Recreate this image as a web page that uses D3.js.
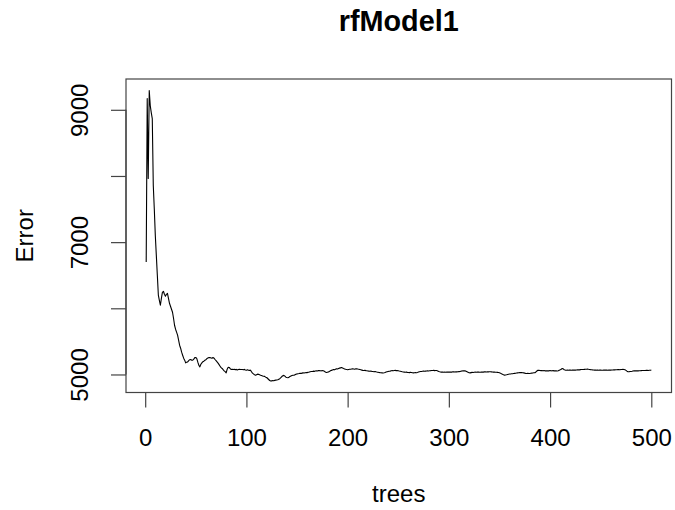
<!DOCTYPE html>
<html>
<head>
<meta charset="utf-8">
<script src="https://cdn.jsdelivr.net/npm/d3@7"></script>
<style>
  html, body { margin: 0; padding: 0; background: #ffffff; }
  svg { display: block; }
  text { font-family: "Liberation Sans", Arial, Helvetica, sans-serif; fill: #000; }
</style>
</head>
<body>
<svg id="chart" width="675" height="510"></svg>
<script>
// ---- data ----
const chartTitle = "rfModel1";
const xLabel = "trees";
const yLabel = "Error";
const xTicks = [0, 100, 200, 300, 400, 500];
const yTicks = [5000, 6000, 7000, 8000, 9000];
const yTickLabels = ["5000", "", "7000", "", "9000"];

// OOB error for trees 1..500
const errors = [
  6699, 9169, 7962, 9290, 9064, 8958, 8868, 7857, 7500, 7100,
  6800, 6500, 6200, 6121, 6046, 6151, 6242, 6257, 6212, 6182,
  6212, 6227, 6151, 6076, 6031, 5985, 5940, 5850, 5744, 5684,
  5639, 5594, 5518, 5442, 5397, 5337, 5291, 5246, 5216, 5175,
  5186, 5190, 5208, 5223, 5226, 5216, 5216, 5231, 5254, 5257,
  5241, 5186, 5140, 5115, 5155, 5175, 5193, 5201, 5216, 5223,
  5241, 5250, 5257, 5255, 5250, 5245, 5257, 5246, 5226, 5208,
  5190, 5171, 5148, 5125, 5103, 5091, 5072, 5054, 5042, 5024,
  5080, 5110, 5106, 5088, 5075, 5080, 5075, 5080, 5072, 5077,
  5068, 5075, 5080, 5074, 5075, 5075, 5072, 5077, 5068, 5065,
  5071, 5065, 5062, 5065, 5042, 5020, 5008, 4997, 4989, 4997,
  5005, 5002, 4996, 4989, 4985, 4977, 4974, 4971, 4959, 4954,
  4939, 4924, 4909, 4903, 4903, 4909, 4906, 4911, 4914, 4917,
  4921, 4929, 4936, 4951, 4969, 4981, 4986, 4974, 4959, 4954,
  4951, 4959, 4969, 4977, 4985, 4989, 4989, 4997, 5005, 5008,
  5012, 5014, 5018, 5016, 5020, 5024, 5022, 5027, 5030, 5028,
  5033, 5036, 5040, 5044, 5046, 5050, 5047, 5052, 5056, 5053,
  5058, 5060, 5057, 5055, 5058, 5056, 5048, 5038, 5030, 5034,
  5039, 5046, 5055, 5062, 5068, 5074, 5070, 5078, 5085, 5082,
  5090, 5096, 5100, 5104, 5098, 5090, 5084, 5078, 5075, 5072,
  5076, 5080, 5078, 5082, 5086, 5083, 5080, 5085, 5087, 5082,
  5078, 5074, 5070, 5066, 5062, 5060, 5063, 5058, 5055, 5052,
  5050, 5048, 5051, 5046, 5044, 5042, 5045, 5040, 5036, 5034,
  5031, 5028, 5026, 5024, 5022, 5025, 5030, 5036, 5040, 5044,
  5048, 5051, 5055, 5058, 5056, 5060, 5062, 5058, 5060, 5057,
  5052, 5048, 5044, 5040, 5038, 5036, 5034, 5035, 5032, 5030,
  5028, 5032, 5030, 5026, 5024, 5027, 5030, 5027, 5031, 5036,
  5040, 5044, 5046, 5049, 5052, 5048, 5050, 5052, 5055, 5053,
  5056, 5058, 5061, 5060, 5062, 5058, 5061, 5060, 5054, 5046,
  5040, 5036, 5035, 5037, 5033, 5036, 5034, 5038, 5035, 5036,
  5035, 5038, 5036, 5040, 5039, 5037, 5041, 5039, 5040, 5043,
  5046, 5050, 5052, 5054, 5055, 5054, 5050, 5042, 5032, 5026,
  5024, 5028, 5032, 5030, 5034, 5036, 5033, 5035, 5037, 5035,
  5034, 5036, 5038, 5036, 5039, 5041, 5038, 5040, 5039, 5041,
  5040, 5039, 5038, 5036, 5035, 5033, 5034, 5032, 5030, 5026,
  5020, 5010, 5002, 4995, 4990, 4993, 4996, 5000, 5004, 5006,
  5008, 5010, 5012, 5014, 5016, 5018, 5022, 5024, 5026, 5028,
  5030, 5028, 5026, 5024, 5020, 5017, 5015, 5016, 5014, 5015,
  5018, 5020, 5022, 5025, 5026, 5038, 5052, 5064, 5062, 5060,
  5058, 5060, 5057, 5058, 5055, 5056, 5054, 5057, 5055, 5058,
  5056, 5055, 5058, 5054, 5056, 5055, 5053, 5056, 5062, 5070,
  5080, 5090, 5085, 5072, 5066, 5064, 5066, 5063, 5065, 5066,
  5064, 5066, 5065, 5067, 5066, 5068, 5070, 5072, 5070, 5073,
  5075, 5076, 5074, 5077, 5078, 5080, 5081, 5078, 5076, 5073,
  5071, 5069, 5068, 5066, 5068, 5065, 5066, 5064, 5066, 5065,
  5063, 5064, 5066, 5065, 5067, 5066, 5064, 5066, 5065, 5066,
  5068, 5067, 5070, 5069, 5071, 5072, 5073, 5074, 5072, 5075,
  5076, 5077, 5075, 5071, 5062, 5050, 5042, 5040, 5044, 5046,
  5048, 5052, 5055, 5054, 5056, 5054, 5055, 5057, 5056, 5058,
  5060, 5059, 5061, 5060, 5062, 5063, 5061, 5064, 5063, 5065
];
const trees = d3.range(1, errors.length + 1);

// ---- layout ----
const W = 675, H = 510;
const box = { left: 126, right: 671.5, top: 79, bottom: 392.5 };
const axisFont = 24, titleFont = 28.8;
const tickLen = 15;

// R-style 4% axis extension
function extend(ext) {
  const pad = (ext[1] - ext[0]) * 0.04;
  return [ext[0] - pad, ext[1] + pad];
}

const x = d3.scaleLinear().domain(extend(d3.extent(trees))).range([box.left, box.right]);
const y = d3.scaleLinear().domain(extend(d3.extent(errors))).range([box.bottom, box.top]);

const svg = d3.select("#chart");
svg.append("rect").attr("width", W).attr("height", H).attr("fill", "#fff");

// data line
const line = d3.line().x((d, i) => x(trees[i])).y(d => y(d));
svg.append("path")
  .datum(errors)
  .attr("d", line)
  .attr("fill", "none")
  .attr("stroke", "#000")
  .attr("stroke-width", 1.1)
  .attr("stroke-linejoin", "round");

// plot box
svg.append("rect")
  .attr("x", box.left).attr("y", box.top)
  .attr("width", box.right - box.left).attr("height", box.bottom - box.top)
  .attr("fill", "none").attr("stroke", "#444").attr("stroke-width", 1.2);

// x axis
const xAxis = d3.axisBottom(x).tickValues(xTicks).tickSize(tickLen).tickPadding(22).tickSizeOuter(0);
const gx = svg.append("g").attr("transform", `translate(0,${box.bottom})`).call(xAxis);
gx.select(".domain").attr("d", `M${x(xTicks[0])},0H${x(xTicks[xTicks.length - 1])}`).attr("stroke", "#444").attr("stroke-width", 1.2);
gx.selectAll(".tick line").attr("stroke", "#444").attr("stroke-width", 1.2);
gx.selectAll(".tick text")
  .attr("font-size", axisFont)
  .attr("font-family", "Liberation Sans, Arial, sans-serif")
  .attr("fill", "#111")
  .attr("dy", null)
  .attr("y", 53.5 - 0)
  .attr("dominant-baseline", "auto");

// y axis
const yAxis = d3.axisLeft(y).tickValues(yTicks).tickSize(tickLen).tickFormat((d, i) => yTickLabels[i]).tickSizeOuter(0);
const gy = svg.append("g").attr("transform", `translate(${box.left},0)`).call(yAxis);
gy.select(".domain").attr("d", `M0,${y(yTicks[0])}V${y(yTicks[yTicks.length - 1])}`).attr("stroke", "#444").attr("stroke-width", 1.2);
gy.selectAll(".tick line").attr("stroke", "#444").attr("stroke-width", 1.2);
gy.selectAll(".tick text")
  .attr("font-size", axisFont)
  .attr("font-family", "Liberation Sans, Arial, sans-serif")
  .attr("fill", "#111")
  .attr("x", null).attr("dy", null)
  .attr("text-anchor", "middle")
  .attr("transform", "translate(-38,0) rotate(-90)");

// title & axis titles
svg.append("text")
  .attr("x", (box.left + box.right) / 2).attr("y", 31)
  .attr("text-anchor", "middle")
  .attr("font-size", titleFont).attr("font-weight", "bold")
  .text(chartTitle);

svg.append("text")
  .attr("x", (box.left + box.right) / 2).attr("y", 502)
  .attr("text-anchor", "middle")
  .attr("font-size", axisFont)
  .attr("fill", "#111")
  .text(xLabel);

svg.append("text")
  .attr("transform", `translate(33,${(box.top + box.bottom) / 2}) rotate(-90)`)
  .attr("text-anchor", "middle")
  .attr("font-size", axisFont)
  .attr("fill", "#111")
  .text(yLabel);
</script>
</body>
</html>
